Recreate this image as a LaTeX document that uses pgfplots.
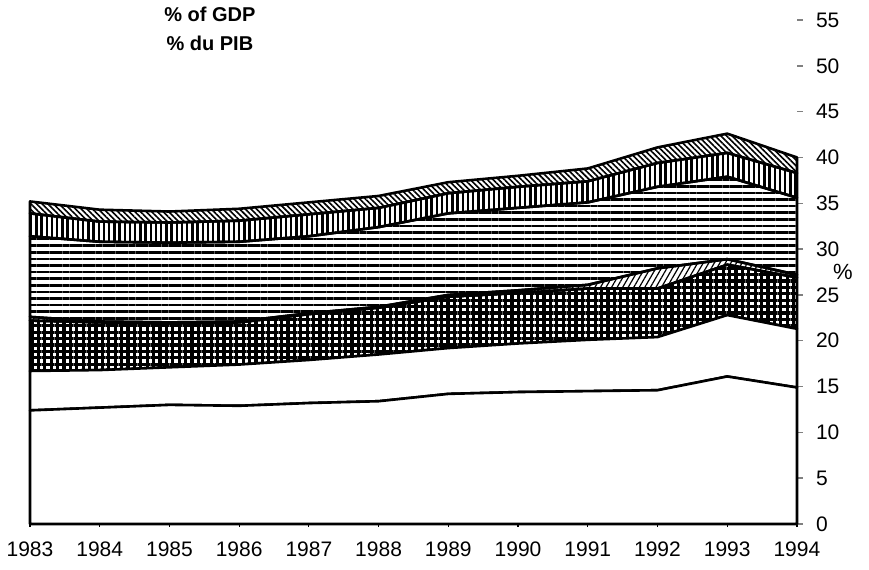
\documentclass[border=0pt]{standalone}
\usepackage{fontspec}
\setmainfont{Liberation Sans}
\usepackage{pgfplots}
\pgfplotsset{compat=1.18}
\usepackage{pgfplotstable}
\usetikzlibrary{patterns.meta}

% layer thicknesses, stacked bottom to top
\pgfplotstableread{
year  a    b    c    d    e    f    g
1983  12.4 4.3  5.5  0.4  8.8  2.5  1.3
1984  12.7 4.1  5.2  0.1  8.7  2.2  1.3
1985  13.0 4.1  4.8  0.1  8.7  2.2  1.2
1986  12.9 4.5  4.6  0.1  8.7  2.3  1.3
1987  13.2 4.7  5.0  0.1  8.4  2.4  1.3
1988  13.4 5.1  5.1  0.1  8.7  2.1  1.3
1989  14.2 5.0  5.6  0.2  8.9  2.2  1.2
1990  14.4 5.3  5.5  0.3  9.0  2.3  1.2
1991  14.5 5.6  5.6  0.4  9.0  2.3  1.4
1992  14.6 5.8  5.3  2.2  8.9  2.6  1.7
1993  16.1 6.7  5.5  0.6  9.0  2.6  2.1
1994  14.9 6.4  5.6  0.3  8.4  2.7  1.7
}\gdp

\begin{document}
\begin{tikzpicture}
\useasboundingbox (-15pt,-22.5pt) rectangle (419.5pt,262pt);
\begin{axis}[
  at={(0,0)},anchor=south west,
  scale only axis,width=383.5pt,height=252pt,
  xmin=1983,xmax=1994,ymin=0,ymax=55,
  stack plots=y,clip=false,
  axis x line*=bottom,axis y line*=right,
  axis line style={-,black,line width=0.9pt},
  y axis line style={draw=none},
  xtick={1983,...,1994},ytick={0,5,...,55},
  /pgf/number format/1000 sep={},
  /pgf/number format/assume math mode=true,
  tick label style={font=\fontsize{10.5}{12}\selectfont},
  xticklabel style={yshift=-4pt},
  yticklabel style={xshift=3pt},
  xtick style={black,line width=0.6pt},xtick align=center,
  ytick style={black!50,line width=0.7pt},ytick align=outside,
  major tick length=3pt,
  every axis plot/.append style={draw=black,line width=1.3pt,line join=round},
]
\addplot[fill=white] table[x=year,y=a]{\gdp} \closedcycle;
\addplot[fill=white] table[x=year,y=b]{\gdp} \closedcycle;
\addplot[pattern={Hatch[distance=3.2pt,line width=1.55pt]}] table[x=year,y=c]{\gdp} \closedcycle;
\addplot[pattern={Lines[angle=60,distance=2.4pt,line width=0.6pt]}] table[x=year,y=d]{\gdp} \closedcycle;
\addplot[pattern={Lines[angle=0,distance=3.3pt,line width=1.3pt]}] table[x=year,y=e]{\gdp} \closedcycle;
\addplot[pattern={Lines[angle=90,distance=2.6pt,line width=1.2pt]}] table[x=year,y=f]{\gdp} \closedcycle;
\addplot[pattern={Lines[angle=-45,distance=2pt,line width=0.8pt]}] table[x=year,y=g]{\gdp} \closedcycle;
\node[font=\bfseries\fontsize{10}{12}\selectfont] at (axis cs:1985.58,55.6) {\% of GDP};
\node[font=\bfseries\fontsize{10}{12}\selectfont] at (axis cs:1985.58,52.5) {\% du PIB};
\node[font=\fontsize{11}{12}\selectfont] at (rel axis cs:1,0.5) [xshift=23pt] {\%};
\end{axis}
\end{tikzpicture}
\end{document}
